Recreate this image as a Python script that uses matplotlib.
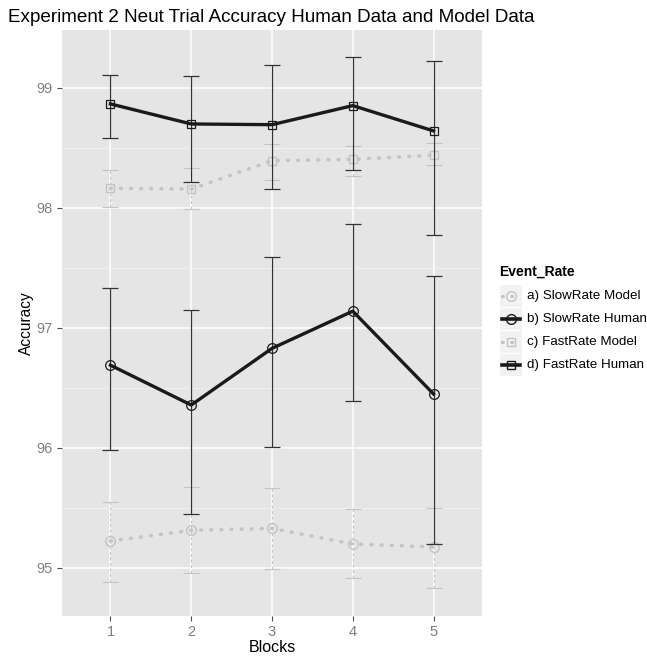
import matplotlib
matplotlib.use("Agg")
import matplotlib.pyplot as plt
from matplotlib.lines import Line2D
from matplotlib.patches import Rectangle
import numpy as np

plt.rcParams['font.family'] = ['Liberation Sans', 'DejaVu Sans']

blocks = [1, 2, 3, 4, 5]
series_names = ["a) SlowRate Model", "b) SlowRate Human",
                "c) FastRate Model", "d) FastRate Human"]

slow_model = [95.225, 95.314, 95.33, 95.20, 95.175]
slow_model_lo = [94.88, 94.956, 94.99, 94.914, 94.83]
slow_model_hi = [95.55, 95.678, 95.67, 95.49, 95.50]

slow_human = [96.69, 96.358, 96.83, 97.14, 96.45]
slow_human_lo = [95.98, 95.45, 96.006, 96.39, 95.20]
slow_human_hi = [97.33, 97.15, 97.594, 97.87, 97.436]

fast_model = [98.164, 98.158, 98.394, 98.405, 98.44]
fast_model_lo = [98.006, 97.99, 98.23, 98.27, 98.36]
fast_model_hi = [98.317, 98.336, 98.536, 98.52, 98.544]

fast_human = [98.867, 98.70, 98.694, 98.853, 98.642]
fast_human_lo = [98.58, 98.217, 98.158, 98.317, 97.775]
fast_human_hi = [99.108, 99.10, 99.19, 99.26, 99.225]

y_ticks = [95, 96, 97, 98, 99]

W, H = 647, 656
fig = plt.figure(figsize=(W / 100, H / 100), dpi=100)
ax = fig.add_axes([62 / W, (H - 616) / H, (482 - 62) / W, (616 - 30) / H])

ax.set_facecolor("#e5e5e5")
for s in ax.spines.values():
    s.set_visible(False)
ax.set_xlim(0.4, 5.6)
ax.set_ylim(94.6, 99.483)
ax.set_xticks(blocks)
ax.set_yticks(y_ticks)
ax.set_yticks([95.5, 96.5, 97.5, 98.5], minor=True)
ax.grid(True, which="major", color="white", linewidth=1.1, zorder=0)
ax.grid(True, which="minor", axis="y", color="#f2f2f2", linewidth=0.6, zorder=0)
ax.set_axisbelow(True)
ax.tick_params(axis="both", which="major", labelcolor="#7f7f7f", labelsize=10.5,
               length=3.5, width=0.8, pad=3, color="#4d4d4d")
ax.tick_params(which="minor", length=0)

model_col = "#c4c4c4"
human_col = "#1a1a1a"
model_ls = (0, (0.2, 2.6))


def draw(vals, lo, hi, marker, ms, model):
    x = np.array(blocks)
    v = np.array(vals)
    err = [v - np.array(lo), np.array(hi) - v]
    if model:
        _, caps, bars = ax.errorbar(x, v, yerr=err, fmt="none", ecolor=model_col,
                                    elinewidth=0.8, capsize=6, capthick=0.8, zorder=2)
        for b in bars:
            b.set_linestyle((0, (2.5, 2.5)))
        ax.plot(x, v, color=model_col, linewidth=2.6, linestyle=model_ls,
                dash_capstyle="round", zorder=3)
        ax.plot(x, v, linestyle="none", marker=marker, markersize=ms,
                markerfacecolor="none", markeredgecolor=model_col,
                markeredgewidth=1.0, zorder=4)
    else:
        ax.errorbar(x, v, yerr=err, fmt="none", ecolor="#333333",
                    elinewidth=0.9, capsize=6, capthick=0.9, zorder=5)
        ax.plot(x, v, color=human_col, linewidth=2.4, zorder=6)
        ax.plot(x, v, linestyle="none", marker=marker, markersize=ms,
                markerfacecolor="none", markeredgecolor=human_col,
                markeredgewidth=0.9, zorder=7)


draw(slow_model, slow_model_lo, slow_model_hi, "o", 7, True)
draw(fast_model, fast_model_lo, fast_model_hi, "s", 6, True)
draw(slow_human, slow_human_lo, slow_human_hi, "o", 7, False)
draw(fast_human, fast_human_lo, fast_human_hi, "s", 6, False)

ax.set_xlabel("Blocks", fontsize=11.5, color="black", labelpad=1)
ax.set_ylabel("Accuracy", fontsize=11.2, color="black")
ax.yaxis.set_label_coords(-0.066, 0.5)

fig.text(8 / W, 1 - 18 / H, "Experiment 2 Neut Trial Accuracy Human Data and Model Data",
         fontsize=13.6, ha="left", va="center", color="black")

# legend drawn in pixel coordinates of the figure
fig.text(499 / W, 1 - 272 / H, "Event_Rate", fontsize=10, fontweight="bold",
         ha="left", va="center", color="black")
key_styles = [
    (model_col, 2.4, model_ls, "o", 7),
    (human_col, 2.6, "-", "o", 7),
    (model_col, 2.4, model_ls, "s", 6),
    (human_col, 2.6, "-", "s", 6),
]
for i, (name, (col, lw, ls, mk, ms)) in enumerate(zip(series_names, key_styles)):
    yc = 296 + 23 * i
    fig.patches.append(Rectangle((500 / W, 1 - (yc + 11) / H), 22 / W, 22 / H,
                                 transform=fig.transFigure, facecolor="#f2f2f2",
                                 edgecolor="none", zorder=1))
    fig.lines.append(Line2D([502 / W, 520 / W], [1 - yc / H, 1 - yc / H],
                            transform=fig.transFigure, color=col, linewidth=lw,
                            linestyle=ls, dash_capstyle="round", zorder=2))
    fig.lines.append(Line2D([511 / W], [1 - yc / H], transform=fig.transFigure,
                            marker=mk, markersize=ms, markerfacecolor="none",
                            markeredgecolor=col, linestyle="none", zorder=3))
    fig.text(527 / W, 1 - yc / H, name, fontsize=9.6, ha="left", va="center",
             color="black")

fig.savefig("out.png", dpi=100)
